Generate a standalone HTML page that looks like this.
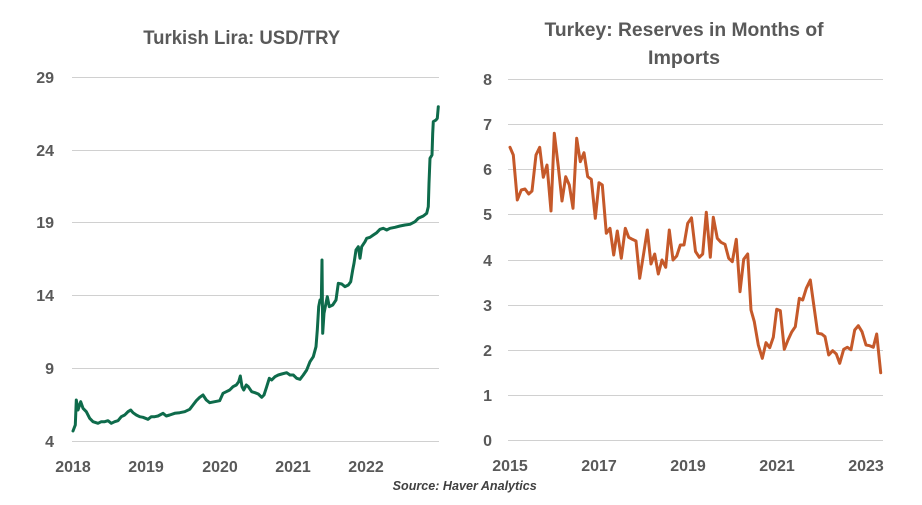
<!DOCTYPE html>
<html>
<head>
<meta charset="utf-8">
<style>
html,body{margin:0;padding:0;background:#fff;}
svg{display:block;}
text{font-family:"Liberation Sans",Arial,sans-serif;fill:#595959;font-weight:bold;}
</style>
</head>
<body>
<svg width="922" height="505" viewBox="0 0 922 505" xmlns="http://www.w3.org/2000/svg">
<rect width="922" height="505" fill="#fff"/>

<!-- LEFT CHART -->
<text x="241.7" y="44" font-size="19" text-anchor="middle" textLength="197" lengthAdjust="spacingAndGlyphs">Turkish Lira: USD/TRY</text>
<g stroke="#d0d0d0" stroke-width="1">
<line x1="72" y1="77.5" x2="439" y2="77.5"/>
<line x1="72" y1="150.5" x2="439" y2="150.5"/>
<line x1="72" y1="222.5" x2="439" y2="222.5"/>
<line x1="72" y1="295.5" x2="439" y2="295.5"/>
<line x1="72" y1="368.5" x2="439" y2="368.5"/>
<line x1="72" y1="441.5" x2="439" y2="441.5"/>
</g>
<g font-size="16" text-anchor="end">
<text x="54" y="83">29</text>
<text x="54" y="156">24</text>
<text x="54" y="228">19</text>
<text x="54" y="301">14</text>
<text x="54" y="374">9</text>
<text x="54" y="447">4</text>
</g>
<g font-size="16" text-anchor="middle">
<text x="73" y="472">2018</text>
<text x="146" y="472">2019</text>
<text x="220" y="472">2020</text>
<text x="293" y="472">2021</text>
<text x="366" y="472">2022</text>
</g>
<polyline fill="none" stroke="#0e6b4b" stroke-width="3" stroke-linejoin="round" stroke-linecap="round"
points="73,431 75.3,425 76.3,400 78,410 80.7,401.7 83,408.3 86.3,411.7 89.7,418.3 93,421.7 98,423.3 101.3,421.7 104.7,421.7 108,420.7 111.3,423.3 114.7,421.7 118,420.7 121.3,416.7 124.7,415 128,411.7 130.7,410 133,412.7 136.3,415 139.7,416.7 143,417.3 148,419.3 151.3,416.7 154.7,416.7 158,416 163,413.3 166.3,416 169.7,415 174.7,413.3 179.7,412.7 184.7,411.7 189.7,409.3 193,405 196.3,400.7 199.7,397.3 203,395 206.3,400 209.7,402.7 214.7,401.7 219.7,400.7 223,393.3 226.3,391.7 229.7,390 233,386.7 236.3,385 238.7,381.7 240.3,376 242,386.7 243.7,390 246.3,385 248.3,386.7 251.7,391.7 255,392.7 258.3,394 261.7,397.3 264,395 266.7,386.7 269.3,378.3 271.7,380 275,376.7 278.3,375 281.7,374 286.7,372.7 290,375 293.3,375 296.7,378.3 300,379.3 303.3,375 306.7,370 310,361.7 313.3,356.7 316,346.7 317.3,330 318.7,306.7 320,300 321.3,301.7 322,260 322.7,333.3 324,313.3 325.3,306.7 327.3,296.7 329.3,306.7 332.7,305 336,300 338.3,283.3 341.7,284 345,286.7 348.3,285 350.7,281.7 352.7,270 354,263.3 356,250 358.3,246.7 360,258.3 361.7,246.7 365,241.7 366.7,238.3 370,237.3 373.3,235 376.7,232.7 380,229.3 383.3,228.3 386.7,230 390,228.3 395,227.3 400,226 405,225 410,224.3 415,221.7 418.3,218.3 423.3,216 426.7,213.3 428.3,206.7 429,183.3 430,158.3 432,155 432.7,133.3 433.3,121.7 436,120 437.3,118.3 438.3,106.7"/>

<!-- RIGHT CHART -->
<text x="684" y="36" font-size="19" text-anchor="middle" textLength="279" lengthAdjust="spacingAndGlyphs">Turkey: Reserves in Months of</text>
<text x="684" y="64" font-size="19" text-anchor="middle" textLength="72" lengthAdjust="spacingAndGlyphs">Imports</text>
<g stroke="#d0d0d0" stroke-width="1">
<line x1="508" y1="79.5" x2="883" y2="79.5"/>
<line x1="508" y1="124.5" x2="883" y2="124.5"/>
<line x1="508" y1="169.5" x2="883" y2="169.5"/>
<line x1="508" y1="214.5" x2="883" y2="214.5"/>
<line x1="508" y1="260.5" x2="883" y2="260.5"/>
<line x1="508" y1="305.5" x2="883" y2="305.5"/>
<line x1="508" y1="350.5" x2="883" y2="350.5"/>
<line x1="508" y1="395.5" x2="883" y2="395.5"/>
<line x1="508" y1="440.5" x2="883" y2="440.5"/>
</g>
<g font-size="16" text-anchor="end">
<text x="492" y="85">8</text>
<text x="492" y="130">7</text>
<text x="492" y="175">6</text>
<text x="492" y="220">5</text>
<text x="492" y="266">4</text>
<text x="492" y="311">3</text>
<text x="492" y="356">2</text>
<text x="492" y="401">1</text>
<text x="492" y="446">0</text>
</g>
<g font-size="16" text-anchor="middle">
<text x="510" y="471">2015</text>
<text x="599" y="471">2017</text>
<text x="688" y="471">2019</text>
<text x="777" y="471">2021</text>
<text x="866" y="471">2023</text>
</g>
<polyline fill="none" stroke="#c5592a" stroke-width="3" stroke-linejoin="round" stroke-linecap="round"
points="510,147.3 513.3,155 517.3,200 521.3,190 525,189 528.7,194 532,191 536,155 539.7,147.3 543.3,177.3 547,165 551,211 554.3,133.3 558.3,166.7 562,201 565.7,176.7 569.3,185 573,208.3 576.7,138.3 580.3,161.7 584,152.7 587.7,176.7 591.3,179.3 595.3,218.3 599,182.7 602.3,185 606.3,233.3 610,228.3 613.7,255 617.3,231 621.3,258.3 625.3,228.3 628.7,237.3 632.3,239.3 636,241 639.7,278.3 643.7,253.3 647.3,230 651,264 654.7,254 658.3,274 662,260 665.7,267.3 669.3,230 673,260 676.7,256 680.3,245 684,245 687.7,223.3 691.5,217.8 695.5,251.5 699.3,257.3 702.7,254 706.3,212.3 710.3,257.3 713.3,217.3 717.3,238.3 721,242.3 725,244.3 728.7,258.3 732.3,261.7 736.3,239.3 740,291.7 743.7,259.3 747.7,254 751,310 754.3,321.7 758.3,345 762.3,358.3 766,342.7 769.7,347.7 773.3,337.3 776.7,309.3 780.3,310.7 784.3,349.3 788,340 791.7,332 795.3,326.7 799.3,298.3 802.7,300 806.3,288.3 810.3,280 814,306.7 817.7,333.3 821.7,334 825,336.7 828.7,355 832.7,350.7 836.3,354 839.7,363.3 843.7,349.3 847.3,347.3 851,349.7 854.7,330 858.3,325.7 862,331.7 866,345 869.7,345.7 873.3,347.3 876.7,334 880.7,372.7"/>

<!-- SOURCE -->
<text x="464.7" y="490" font-size="12.5" font-style="italic" text-anchor="middle" textLength="144" lengthAdjust="spacingAndGlyphs" style="fill:#404040">Source: Haver Analytics</text>
</svg>
</body>
</html>
